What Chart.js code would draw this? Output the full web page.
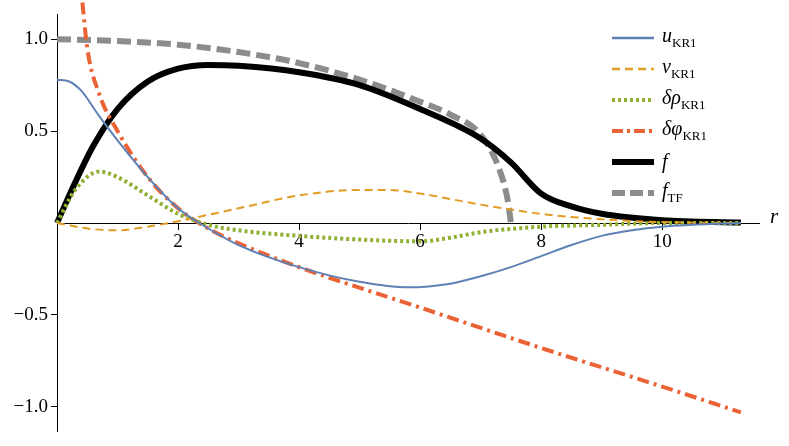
<!DOCTYPE html>
<html>
<head>
<meta charset="utf-8">
<script src="https://cdn.jsdelivr.net/npm/chart.js@4"></script>
<style>
  body { margin: 0; background: #fff; }
  #wrap { position: relative; width: 789px; height: 446px; }
  .legend { position: absolute; left: 612px; top: 22px; font-family: "Liberation Serif", serif; font-size: 20px; }
  .row { display: flex; align-items: center; height: 31px; }
  .row svg { width: 42px; height: 12px; margin-right: 8px; }
  .row i sub { font-style: normal; font-size: 13px; }
  #rlab { position: absolute; left: 770px; top: 204px; font: italic 21px "Liberation Serif", serif; }
</style>
</head>
<body>
<div id="wrap">
  <canvas id="chart" width="789" height="446"></canvas>
  <div id="rlab">r</div>
  <div class="legend">
    <div class="row"><svg><line x1="0" y1="6" x2="42" y2="6" stroke="#5E81B5" stroke-width="2.5"/></svg><i>u<sub>KR1</sub></i></div>
    <div class="row"><svg><line x1="0" y1="6" x2="42" y2="6" stroke="#E19C24" stroke-width="2.5" stroke-dasharray="8,5"/></svg><i>v<sub>KR1</sub></i></div>
    <div class="row"><svg><line x1="0" y1="6" x2="42" y2="6" stroke="#8FB032" stroke-width="4" stroke-dasharray="3,3"/></svg><i>δρ<sub>KR1</sub></i></div>
    <div class="row"><svg><line x1="0" y1="6" x2="42" y2="6" stroke="#EB6235" stroke-width="4" stroke-dasharray="11,4,3,4"/></svg><i>δφ<sub>KR1</sub></i></div>
    <div class="row"><svg><line x1="0" y1="6" x2="42" y2="6" stroke="#000" stroke-width="6"/></svg><i>f</i></div>
    <div class="row"><svg><line x1="0" y1="6" x2="42" y2="6" stroke="#8C8C8C" stroke-width="6" stroke-dasharray="13,5"/></svg><i>f<sub>TF</sub></i></div>
  </div>
</div>
<script>
// values
const uX = [0, 0.2, 0.4, 0.7, 1, 1.5, 2, 2.5, 3, 4, 5, 5.8, 6.5, 7, 7.5, 8, 8.5, 9, 9.5, 10, 10.5, 11.3];
const uY = [0.78, 0.77, 0.72, 0.58, 0.45, 0.25, 0.08, -0.03, -0.12, -0.24, -0.32, -0.35, -0.33, -0.29, -0.24, -0.18, -0.12, -0.07, -0.04, -0.02, -0.01, 0];

const vX = [0, 0.5, 1, 1.5, 2, 3, 4, 5, 5.5, 6, 7, 8, 9, 10, 11.3];
const vY = [0, -0.03, -0.04, -0.02, 0.01, 0.08, 0.15, 0.18, 0.18, 0.16, 0.1, 0.05, 0.02, 0.005, 0];

const rhoX = [0, 0.3, 0.7, 1, 1.5, 2, 2.5, 3, 4, 5, 6, 6.5, 7, 8, 9, 10, 11.3];
const rhoY = [0, 0.18, 0.28, 0.25, 0.15, 0.05, -0.01, -0.04, -0.07, -0.09, -0.1, -0.08, -0.05, -0.02, -0.01, 0, 0];

const phiX = [0.42, 0.5, 0.7, 1, 1.5, 2, 2.5, 3, 4, 6, 8, 10, 11.3];
const phiY = [1.2, 0.95, 0.7, 0.5, 0.25, 0.08, -0.03, -0.11, -0.24, -0.46, -0.68, -0.89, -1.03];

const fX = [0, 0.3, 0.6, 1, 1.5, 2, 2.5, 3, 4, 5, 6, 7, 7.5, 8, 8.5, 9, 10, 11.3];
const fY = [0, 0.22, 0.42, 0.62, 0.77, 0.84, 0.86, 0.855, 0.82, 0.75, 0.62, 0.46, 0.33, 0.16, 0.09, 0.05, 0.015, 0.003];

const tfX = [0, 1, 2, 3, 4, 5, 6, 6.5, 7, 7.3, 7.45, 7.5];
const tfY = [1.0, 0.99, 0.97, 0.93, 0.87, 0.78, 0.66, 0.59, 0.48, 0.3, 0.12, 0];

const xTicks = [2, 4, 6, 8, 10];
const yTicks = [-1.0, -0.5, 0.5, 1.0];

function pts(xs, ys) { return xs.map((x, i) => ({x: x, y: ys[i]})); }
function line(xs, ys, color, width, dash) {
    return {data: pts(xs, ys), borderColor: color, borderWidth: width, borderDash: dash,
            pointRadius: 0, cubicInterpolationMode: 'monotone', fill: false};
}

const serif = {family: 'Liberation Serif', size: 19};

new Chart(document.getElementById('chart').getContext('2d'), {
    type: 'line',
    data: {
        datasets: [
            line(uX, uY, '#5E81B5', 2, []),
            line(vX, vY, '#E19C24', 2, [8, 5]),
            line(rhoX, rhoY, '#8FB032', 4, [3, 3]),
            line(phiX, phiY, '#EB6235', 4, [12, 5, 3, 5]),
            line(fX, fY, '#000000', 6, []),
            line(tfX, tfY, '#8C8C8C', 6, [14, 6]),
        ]
    },
    options: {
        responsive: false,
        animation: false,
        clip: false,
        layout: {padding: {top: 0, bottom: 0, left: 0, right: 30}},
        plugins: {legend: {display: false}, tooltip: {enabled: false}},
        scales: {
            x: {
                type: 'linear', min: 0, max: 11.6,
                position: {y: 0},
                afterBuildTicks: s => { s.ticks = xTicks.map(v => ({value: v})); },
                ticks: {font: serif, color: '#000', padding: 2},
                grid: {drawOnChartArea: false, tickLength: 6, color: '#000'},
                border: {color: '#000'}
            },
            y: {
                min: -1.135, max: 1.135,
                afterFit: s => { s.width = 57; },
                afterBuildTicks: s => { s.ticks = yTicks.map(v => ({value: v})); },
                ticks: {font: serif, color: '#000', callback: v => v.toFixed(1).replace('-', '\u2212')},
                grid: {drawOnChartArea: false, tickLength: 6, color: '#000'},
                border: {color: '#000'}
            }
        }
    }
});
</script>
</body>
</html>
